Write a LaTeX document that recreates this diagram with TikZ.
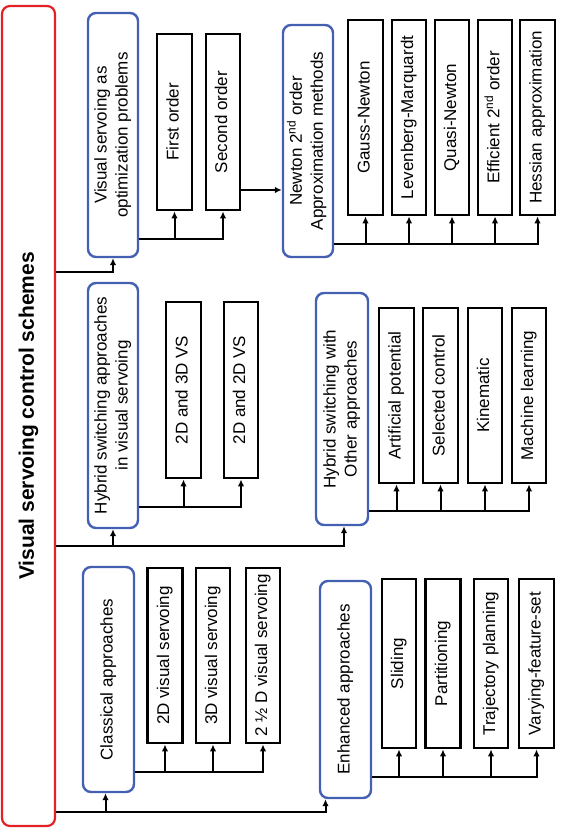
\documentclass[tikz,border=0pt]{standalone}
\usepackage{fontspec}
\setmainfont{Liberation Sans}
\usetikzlibrary{arrows.meta}
\definecolor{boxblue}{RGB}{68,96,178}
\definecolor{rootred}{RGB}{225,35,40}
\tikzset{
  rootbox/.style={draw=rootred, line width=2.2pt, rounded corners=8pt, inner sep=0pt},
  grpbox/.style={draw=boxblue, line width=2.4pt, rounded corners=8pt, inner sep=0pt},
  leafbox/.style={draw=black, line width=2.8pt, inner sep=0pt},
  conn/.style={draw=black, line width=2pt, -{Latex[length=7pt,width=6.5pt]}},
  every node/.style={font=\fontsize{17}{21}\selectfont}
}
\newcommand{\rt}[1]{\rotatebox{90}{\begin{tabular}{@{}c@{}}#1\end{tabular}}}
\begin{document}
\begin{tikzpicture}[x=1pt,y=-1pt]
\useasboundingbox (0,0) rectangle (561,832);
% root
\node[rootbox, minimum width=53pt, minimum height=820pt] (root) at (28.5,416)
  {\rotatebox{90}{\fontsize{21}{25}\selectfont\bfseries Visual servoing control schemes}};
% group boxes
\node[grpbox, minimum width=50pt, minimum height=244pt] (vso) at (113,135) {\rt{Visual servoing as\\optimization problems}};
\node[grpbox, minimum width=50pt, minimum height=232pt] (newt) at (308,141) {\rt{Newton 2\textsuperscript{nd} order\\Approximation methods}};
\node[grpbox, minimum width=50pt, minimum height=245pt] (hvs) at (113,405.5) {\rt{Hybrid switching approaches\\in visual servoing}};
\node[grpbox, minimum width=52pt, minimum height=232pt] (hot) at (342,409) {\rt{Hybrid switching with\\Other approaches}};
\node[grpbox, minimum width=51pt, minimum height=225pt] (cls) at (108.5,679.5) {\rt{Classical approaches}};
\node[grpbox, minimum width=51pt, minimum height=217pt] (enh) at (345.5,689.5) {\rt{Enhanced approaches}};
% leaves: optimization
\node[leafbox, minimum width=35pt, minimum height=176pt] (fo) at (174.5,122) {\rt{First order}};
\node[leafbox, minimum width=34pt, minimum height=176pt] (so) at (223,122) {\rt{Second order}};
% leaves: newton
\node[leafbox, minimum width=35pt, minimum height=195pt] (gn) at (365.5,117.5) {\rt{Gauss-Newton}};
\node[leafbox, minimum width=34pt, minimum height=195pt] (lm) at (409,117.5) {\rt{Levenberg-Marquardt}};
\node[leafbox, minimum width=34pt, minimum height=195pt] (qn) at (452,117.5) {\rt{Quasi-Newton}};
\node[leafbox, minimum width=34pt, minimum height=195pt] (eso) at (495,117.5) {\rt{Efficient 2\textsuperscript{nd} order}};
\node[leafbox, minimum width=35pt, minimum height=195pt] (ha) at (537.5,117.5) {\rt{Hessian approximation}};
% leaves: hybrid vs
\node[leafbox, minimum width=35pt, minimum height=176pt] (d23) at (183.5,390) {\rt{2D and 3D VS}};
\node[leafbox, minimum width=34pt, minimum height=176pt] (d22) at (241,390) {\rt{2D and 2D VS}};
% leaves: hybrid other
\node[leafbox, minimum width=35pt, minimum height=175pt] (ap) at (396.5,395.5) {\rt{Artificial potential}};
\node[leafbox, minimum width=35pt, minimum height=175pt] (sc) at (440.5,395.5) {\rt{Selected control}};
\node[leafbox, minimum width=34pt, minimum height=175pt] (kin) at (485,395.5) {\rt{Kinematic}};
\node[leafbox, minimum width=34pt, minimum height=175pt] (ml) at (529,395.5) {\rt{Machine learning}};
% leaves: classical
\node[leafbox, minimum width=35pt, minimum height=175pt] (c2d) at (165,655.5) {\rt{2D visual servoing}};
\node[leafbox, minimum width=34pt, minimum height=175pt] (c3d) at (213,655.5) {\rt{3D visual servoing}};
\node[leafbox, minimum width=34pt, minimum height=175pt] (c25) at (263,655.5) {\rt{2 ½ D visual servoing}};
% leaves: enhanced
\node[leafbox, minimum width=34pt, minimum height=169pt] (sl) at (399,663.5) {\rt{Sliding}};
\node[leafbox, minimum width=35pt, minimum height=169pt] (pa) at (443,663.5) {\rt{Partitioning}};
\node[leafbox, minimum width=34pt, minimum height=169pt] (tp) at (491,663.5) {\rt{Trajectory planning}};
\node[leafbox, minimum width=35pt, minimum height=169pt] (vf) at (536.5,663.5) {\rt{Varying-feature-set}};
% trunk levels
\coordinate (l1) at (0,812);
\coordinate (l2) at (0,546);
\coordinate (l3) at (0,272);
\draw[conn] (root.east |- l1) -| ([xshift=-3pt]cls.south);
\draw[conn] (root.east |- l1) -| ([xshift=-20pt]enh.south);
\draw[conn] (root.east |- l2) -| (hvs.south);
\draw[conn] (root.east |- l2) -| ([xshift=2pt]hot.south);
\draw[conn] (root.east |- l3) -| (vso.south);
% buses
\draw[conn] ([yshift=19pt]vso.south east) -| (fo.south);
\draw[conn] ([yshift=19pt]vso.south east) -| (so.south);
\coordinate (sn) at ([yshift=-68pt]so.east);
\draw[conn] (sn) -- (sn -| newt.west);
\foreach \k in {gn,lm,qn,eso,ha}
  \draw[conn] ([yshift=14pt]newt.south east) -| (\k.south);
\foreach \k in {d23,d22}
  \draw[conn] ([yshift=22pt]hvs.south east) -| (\k.south);
\foreach \k in {ap,sc,kin,ml}
  \draw[conn] ([yshift=15pt]hot.south east) -| (\k.south);
\foreach \k in {c2d,c3d,c25}
  \draw[conn] ([yshift=21pt]cls.south east) -| (\k.south);
\foreach \k in {sl,pa,tp,vf}
  \draw[conn] ([yshift=22pt]enh.south east) -| (\k.south);
\end{tikzpicture}
\end{document}
